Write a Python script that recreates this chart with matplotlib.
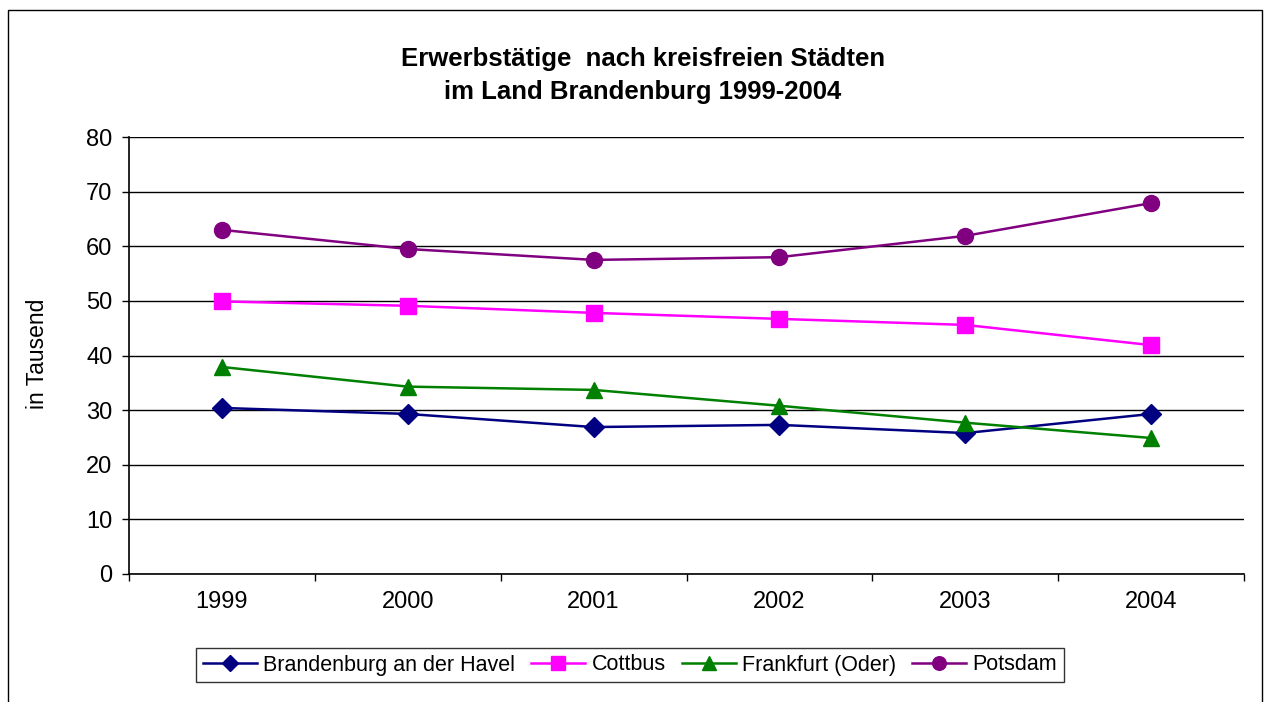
import matplotlib
matplotlib.use('Agg')
import matplotlib.pyplot as plt
import matplotlib.patches as patches

plt.rcParams['font.family'] = ['Liberation Sans', 'DejaVu Sans']

years = ['1999', '2000', '2001', '2002', '2003', '2004']
brandenburg = [30.4, 29.3, 26.9, 27.3, 25.8, 29.3]
cottbus = [49.9, 49.1, 47.8, 46.7, 45.6, 41.9]
frankfurt = [37.9, 34.3, 33.7, 30.8, 27.7, 24.9]
potsdam = [63.0, 59.5, 57.5, 58.0, 61.9, 67.9]

series = [
    ('Brandenburg an der Havel', brandenburg, '#000080', 'D'),
    ('Cottbus', cottbus, '#FF00FF', 's'),
    ('Frankfurt (Oder)', frankfurt, '#008000', '^'),
    ('Potsdam', potsdam, '#800080', 'o'),
]

W, H = 1267, 702
fig = plt.figure(figsize=(W / 100, H / 100), dpi=100)
ax = fig.add_axes([129/W, 1 - 574/H, (1244-129)/W, (574-137)/H])

x = range(len(years))
for name, vals, col, mk in series:
    ms = 10 if mk == 'D' else 11.5
    ax.plot(x, vals, color=col, lw=1.8, marker=mk, ms=ms, mec=col, mfc=col, label=name)

ax.set_xlim(-0.5, len(years) - 0.5)
ax.set_ylim(0, 80)
ax.set_yticks(range(0, 81, 10))
ax.set_xticks([i + 0.5 for i in range(-1, len(years))])
ax.set_xticklabels([])
ax.set_xticks(list(x), minor=True)
ax.set_xticklabels(years, minor=True)
ax.tick_params(axis='x', which='minor', length=0, labelsize=17, pad=12)
ax.tick_params(axis='x', which='major', length=5, direction='out', width=1)
ax.tick_params(axis='y', length=5, direction='out', width=1, labelsize=17, pad=7)
ax.grid(axis='y', color='black', lw=1)
ax.set_axisbelow(True)
for s in ['top', 'right']:
    ax.spines[s].set_visible(False)
for s in ['left', 'bottom']:
    ax.spines[s].set_linewidth(1.2)

ax.set_ylabel('in Tausend', fontsize=16.5)
ax.yaxis.set_label_coords((49 - 129) / (1244 - 129), (574 - 354) / (574 - 137))

fig.text(643/W, 1 - 75.5/H, 'Erwerbstätige  nach kreisfreien Städten\nim Land Brandenburg 1999-2004',
         ha='center', va='center', fontsize=18.5, fontweight='bold', linespacing=1.45)

leg = ax.legend(loc='center', bbox_to_anchor=(630/W, 1 - 665/H), bbox_transform=fig.transFigure,
                ncol=4, frameon=True, fancybox=False, fontsize=15.5, handlelength=2.5,
                handletextpad=0.3, columnspacing=0.75, borderpad=0.3, markerscale=0.85)
leg.get_frame().set_edgecolor('black')
leg.get_frame().set_linewidth(1)

fig.patches.append(patches.Rectangle((8/W, -0.01), (1262-8)/W, 1 - 10/H + 0.01,
                                     transform=fig.transFigure, fill=False, edgecolor='black', lw=1))

fig.savefig('out.png', dpi=100)
